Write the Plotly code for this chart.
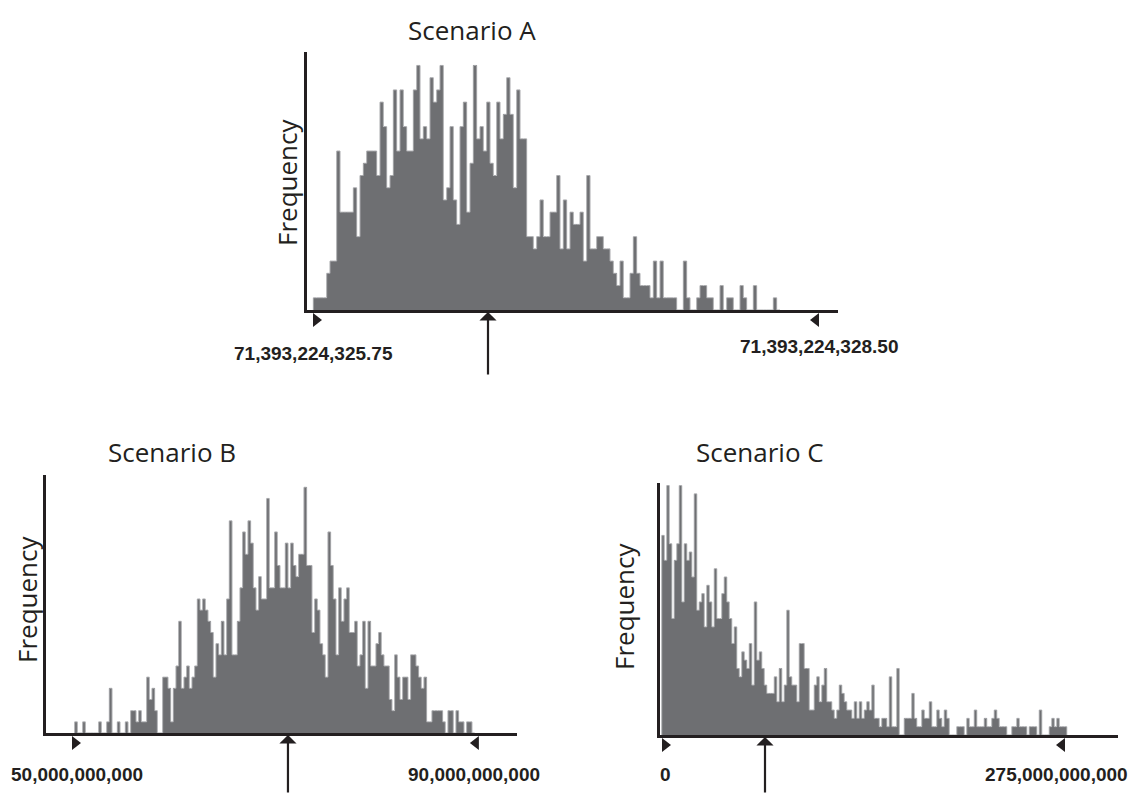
import plotly.graph_objects as go

# ---------------- data (bin counts) ----------------
titles = ["Scenario A", "Scenario B", "Scenario C"]
y_title = "Frequency"

counts_a = [1, 1, 1, 1, 3, 4, 4, 13, 8, 8, 8, 8, 10, 6, 11, 12, 13, 13, 13, 11,
            17, 15, 10, 11, 18, 13, 18, 15, 13, 13, 18, 20, 14, 15, 14, 19, 17, 18, 20, 9,
            10, 15, 9, 7, 15, 17, 8, 12, 20, 14, 15, 13, 17, 12, 11, 17, 14, 16, 19, 16,
            10, 18, 14, 14, 6, 6, 5, 6, 9, 6, 6, 8, 8, 11, 5, 9, 5, 8, 7, 7,
            8, 4, 11, 5, 5, 6, 6, 5, 5, 4, 3, 2, 4, 1, 1, 3, 6, 3, 2, 2,
            2, 1, 4, 1, 4, 1, 1, 1, 1, 0, 0, 4, 1, 0, 0, 1, 2, 2, 1, 1,
            0, 0, 2, 0, 1, 1, 0, 0, 2, 1, 0, 0, 2, 0, 0, 0, 0, 0, 1, 0]

counts_b = [1, 0, 0, 1, 0, 0, 0, 0, 0, 1, 0, 0, 1, 4, 0, 0, 1, 0, 0, 1,
            0, 2, 2, 1, 2, 1, 1, 5, 3, 4, 2, 0, 0, 5, 5, 4, 1, 4, 6, 10,
            4, 5, 6, 4, 5, 6, 12, 11, 12, 11, 10, 9, 5, 8, 7, 10, 7, 12, 19, 7,
            7, 10, 13, 18, 16, 19, 17, 13, 11, 14, 12, 12, 21, 13, 13, 18, 15, 13, 13, 17,
            13, 17, 15, 14, 16, 16, 22, 15, 15, 9, 12, 11, 8, 7, 5, 18, 15, 12, 7, 13,
            10, 12, 13, 9, 9, 10, 6, 7, 10, 4, 10, 6, 6, 8, 9, 7, 6, 6, 3, 2,
            7, 5, 3, 5, 5, 3, 7, 7, 6, 5, 4, 5, 1, 1, 2, 2, 2, 2, 1, 0,
            2, 2, 0, 2, 1, 1, 0, 1, 1, 0]

counts_c = [24, 21, 30, 23, 14, 21, 23, 30, 16, 23, 21, 22, 19, 29, 15, 16, 17, 13, 18, 16,
            13, 20, 14, 14, 17, 19, 16, 14, 11, 13, 8, 7, 10, 9, 8, 11, 6, 16, 9, 10,
            8, 6, 5, 5, 5, 7, 4, 8, 4, 6, 15, 7, 6, 6, 4, 11, 11, 8, 8, 3,
            3, 6, 7, 4, 6, 8, 4, 4, 3, 2, 3, 6, 5, 4, 3, 3, 2, 4, 2, 4,
            2, 3, 4,
            3, 6, 2, 2, 1, 2, 2, 1, 7, 1, 1, 8, 0, 0, 2, 2, 2, 5, 2, 1,
            1, 3, 2, 2, 4, 1, 1, 3, 2, 1, 3, 2, 0, 0, 0, 1, 1, 1, 0, 2,
            1, 1, 3, 1, 1, 1, 2, 1, 1, 2, 3, 2, 1, 1, 1, 0, 0, 1, 1, 2,
            1, 1, 1, 0, 1, 1, 1, 0, 3, 0, 0, 0, 1, 2, 1, 2, 1, 1, 1]

# range-end labels, their bin positions, and the arrow position (bin index)
labels_a = ["71,393,224,325.75", "71,393,224,328.50"]
labels_b = ["50,000,000,000", "90,000,000,000"]
labels_c = ["0", "275,000,000,000"]
mark_a = [0.6, 150.0]
mark_b = [0.0, 149.6]
mark_c = [1.2, 159.2]
arrow_pos = [51.9, 79.5, 40.8]

# ---------------- page geometry ----------------
OFF = 8                      # default body margin of the html page
W, H = 1138 - 2 * OFF, 802 - 2 * OFF


def xp(px):                  # screen pixel -> paper
    return (px - OFF) / W


def yp(py):
    return 1 - (py - OFF) / H


# per panel: x domain px, y domain px (top, bottom), x range, y range
panels = [
    dict(xd=(307, 838), yd=(52, 310), xr=(-2.4, 156.9), yr=(0, 21.1)),
    dict(xd=(46, 517), yd=(475, 733), xr=(-11.25, 165.4), yr=(0, 23.1)),
    dict(xd=(660, 1118), yd=(483, 735), xr=(-1.2, 182.0), yr=(0, 30.3)),
]


def data_to_px(p, xv, yv):
    x0, x1 = p["xd"]
    y0, y1 = p["yd"]
    px = x0 + (xv - p["xr"][0]) / (p["xr"][1] - p["xr"][0]) * (x1 - x0)
    py = y1 - (yv - p["yr"][0]) / (p["yr"][1] - p["yr"][0]) * (y1 - y0)
    return px, py


BAR_FILL = "#6e6f72"
BAR_LINE = "#a9aaad"
INK = "#231f20"
TITLE_FONT = "Open Sans, Noto Sans, sans-serif"
NUM_FONT = "Liberation Sans, Arial, sans-serif"

fig = go.Figure()
all_counts = [counts_a, counts_b, counts_c]
all_labels = [labels_a, labels_b, labels_c]
all_marks = [mark_a, mark_b, mark_c]

for i, (cnt, p) in enumerate(zip(all_counts, panels)):
    sfx = "" if i == 0 else str(i + 1)
    n = len(cnt)
    fig.add_trace(go.Bar(
        x=list(range(n)), y=cnt, width=1.0,
        marker=dict(color=BAR_FILL, line=dict(width=0)),
        xaxis="x" + sfx, yaxis="y" + sfx, showlegend=False, hoverinfo="skip"))
    # light outline of the histogram silhouette
    sx = [-0.5] + [k - 0.5 for k in range(n)] + [n - 0.5, n - 0.5]
    sy = [0] + list(cnt) + [cnt[-1], 0]
    fig.add_trace(go.Scatter(
        x=sx, y=sy, mode="lines", line=dict(color=BAR_LINE, width=1, shape="hv"),
        xaxis="x" + sfx, yaxis="y" + sfx, showlegend=False, hoverinfo="skip"))

layout = dict(width=W, height=H, margin=dict(l=0, r=0, t=0, b=0),
              paper_bgcolor="white", plot_bgcolor="white", bargap=0,
              showlegend=False)

for i, p in enumerate(panels):
    sfx = "" if i == 0 else str(i + 1)
    layout["xaxis" + sfx] = dict(
        domain=[xp(p["xd"][0]), xp(p["xd"][1])], range=list(p["xr"]),
        anchor="y" + sfx, showline=True, linewidth=3, linecolor=INK,
        showgrid=False, zeroline=False, showticklabels=False, ticks="",
        fixedrange=True)
    layout["yaxis" + sfx] = dict(
        domain=[yp(p["yd"][1]), yp(p["yd"][0])], range=list(p["yr"]),
        anchor="x" + sfx, showline=True, linewidth=3, linecolor=INK,
        showgrid=False, zeroline=False, showticklabels=False, ticks="",
        fixedrange=True)

fig.update_layout(**layout)

ann = []
shapes = []
title_pos = [(472, 30), (172, 452), (760, 452)]
freq_pos = [(287, 183), (27, 600), (624, 607)]
lab_pos = [[(313, 353), (819, 346)], [(77, 774), (474, 774)], [(665, 774), (1056, 774)]]
arrow_len = [64, 60, 58]

for i in range(3):
    p = panels[i]
    tx, ty = title_pos[i]
    ann.append(dict(text=titles[i], x=xp(tx), y=yp(ty), xref="paper", yref="paper",
                    showarrow=False, font=dict(family=TITLE_FONT, size=26, color=INK),
                    xanchor="center", yanchor="middle"))
    fx, fy = freq_pos[i]
    ann.append(dict(text=y_title, x=xp(fx), y=yp(fy), xref="paper", yref="paper",
                    showarrow=False, textangle=-90,
                    font=dict(family=TITLE_FONT, size=26, color=INK),
                    xanchor="center", yanchor="middle"))
    for (lx, ly), lt in zip(lab_pos[i], all_labels[i]):
        ann.append(dict(text=lt, x=xp(lx), y=yp(ly), xref="paper", yref="paper",
                        showarrow=False,
                        font=dict(family=NUM_FONT, size=19, color=INK, weight="bold"),
                        xanchor="center", yanchor="middle"))
    # arrow pointing up at the axis
    ax_px, base_py = data_to_px(p, arrow_pos[i], 0)
    ann.append(dict(x=xp(ax_px), y=yp(base_py + 2), xref="paper", yref="paper",
                    ax=0, ay=arrow_len[i], text="", showarrow=True,
                    arrowhead=1, arrowsize=1.3, arrowwidth=2.2, arrowcolor=INK))
    # range-end flag markers (triangles below the axis)
    for j, mv in enumerate(all_marks[i]):
        mx, _ = data_to_px(p, mv, 0)
        top, bot = base_py + 3, base_py + 17
        if j == 0:
            path = (f"M {xp(mx - 4)} {yp(top)} L {xp(mx + 5)} {yp((top + bot) / 2)} "
                    f"L {xp(mx - 4)} {yp(bot)} Z")
        else:
            path = (f"M {xp(mx + 4)} {yp(top)} L {xp(mx - 5)} {yp((top + bot) / 2)} "
                    f"L {xp(mx + 4)} {yp(bot)} Z")
        shapes.append(dict(type="path", path=path, xref="paper", yref="paper",
                           fillcolor=INK, line=dict(width=0)))

fig.update_layout(annotations=ann, shapes=shapes)
fig.write_html("out.html")
